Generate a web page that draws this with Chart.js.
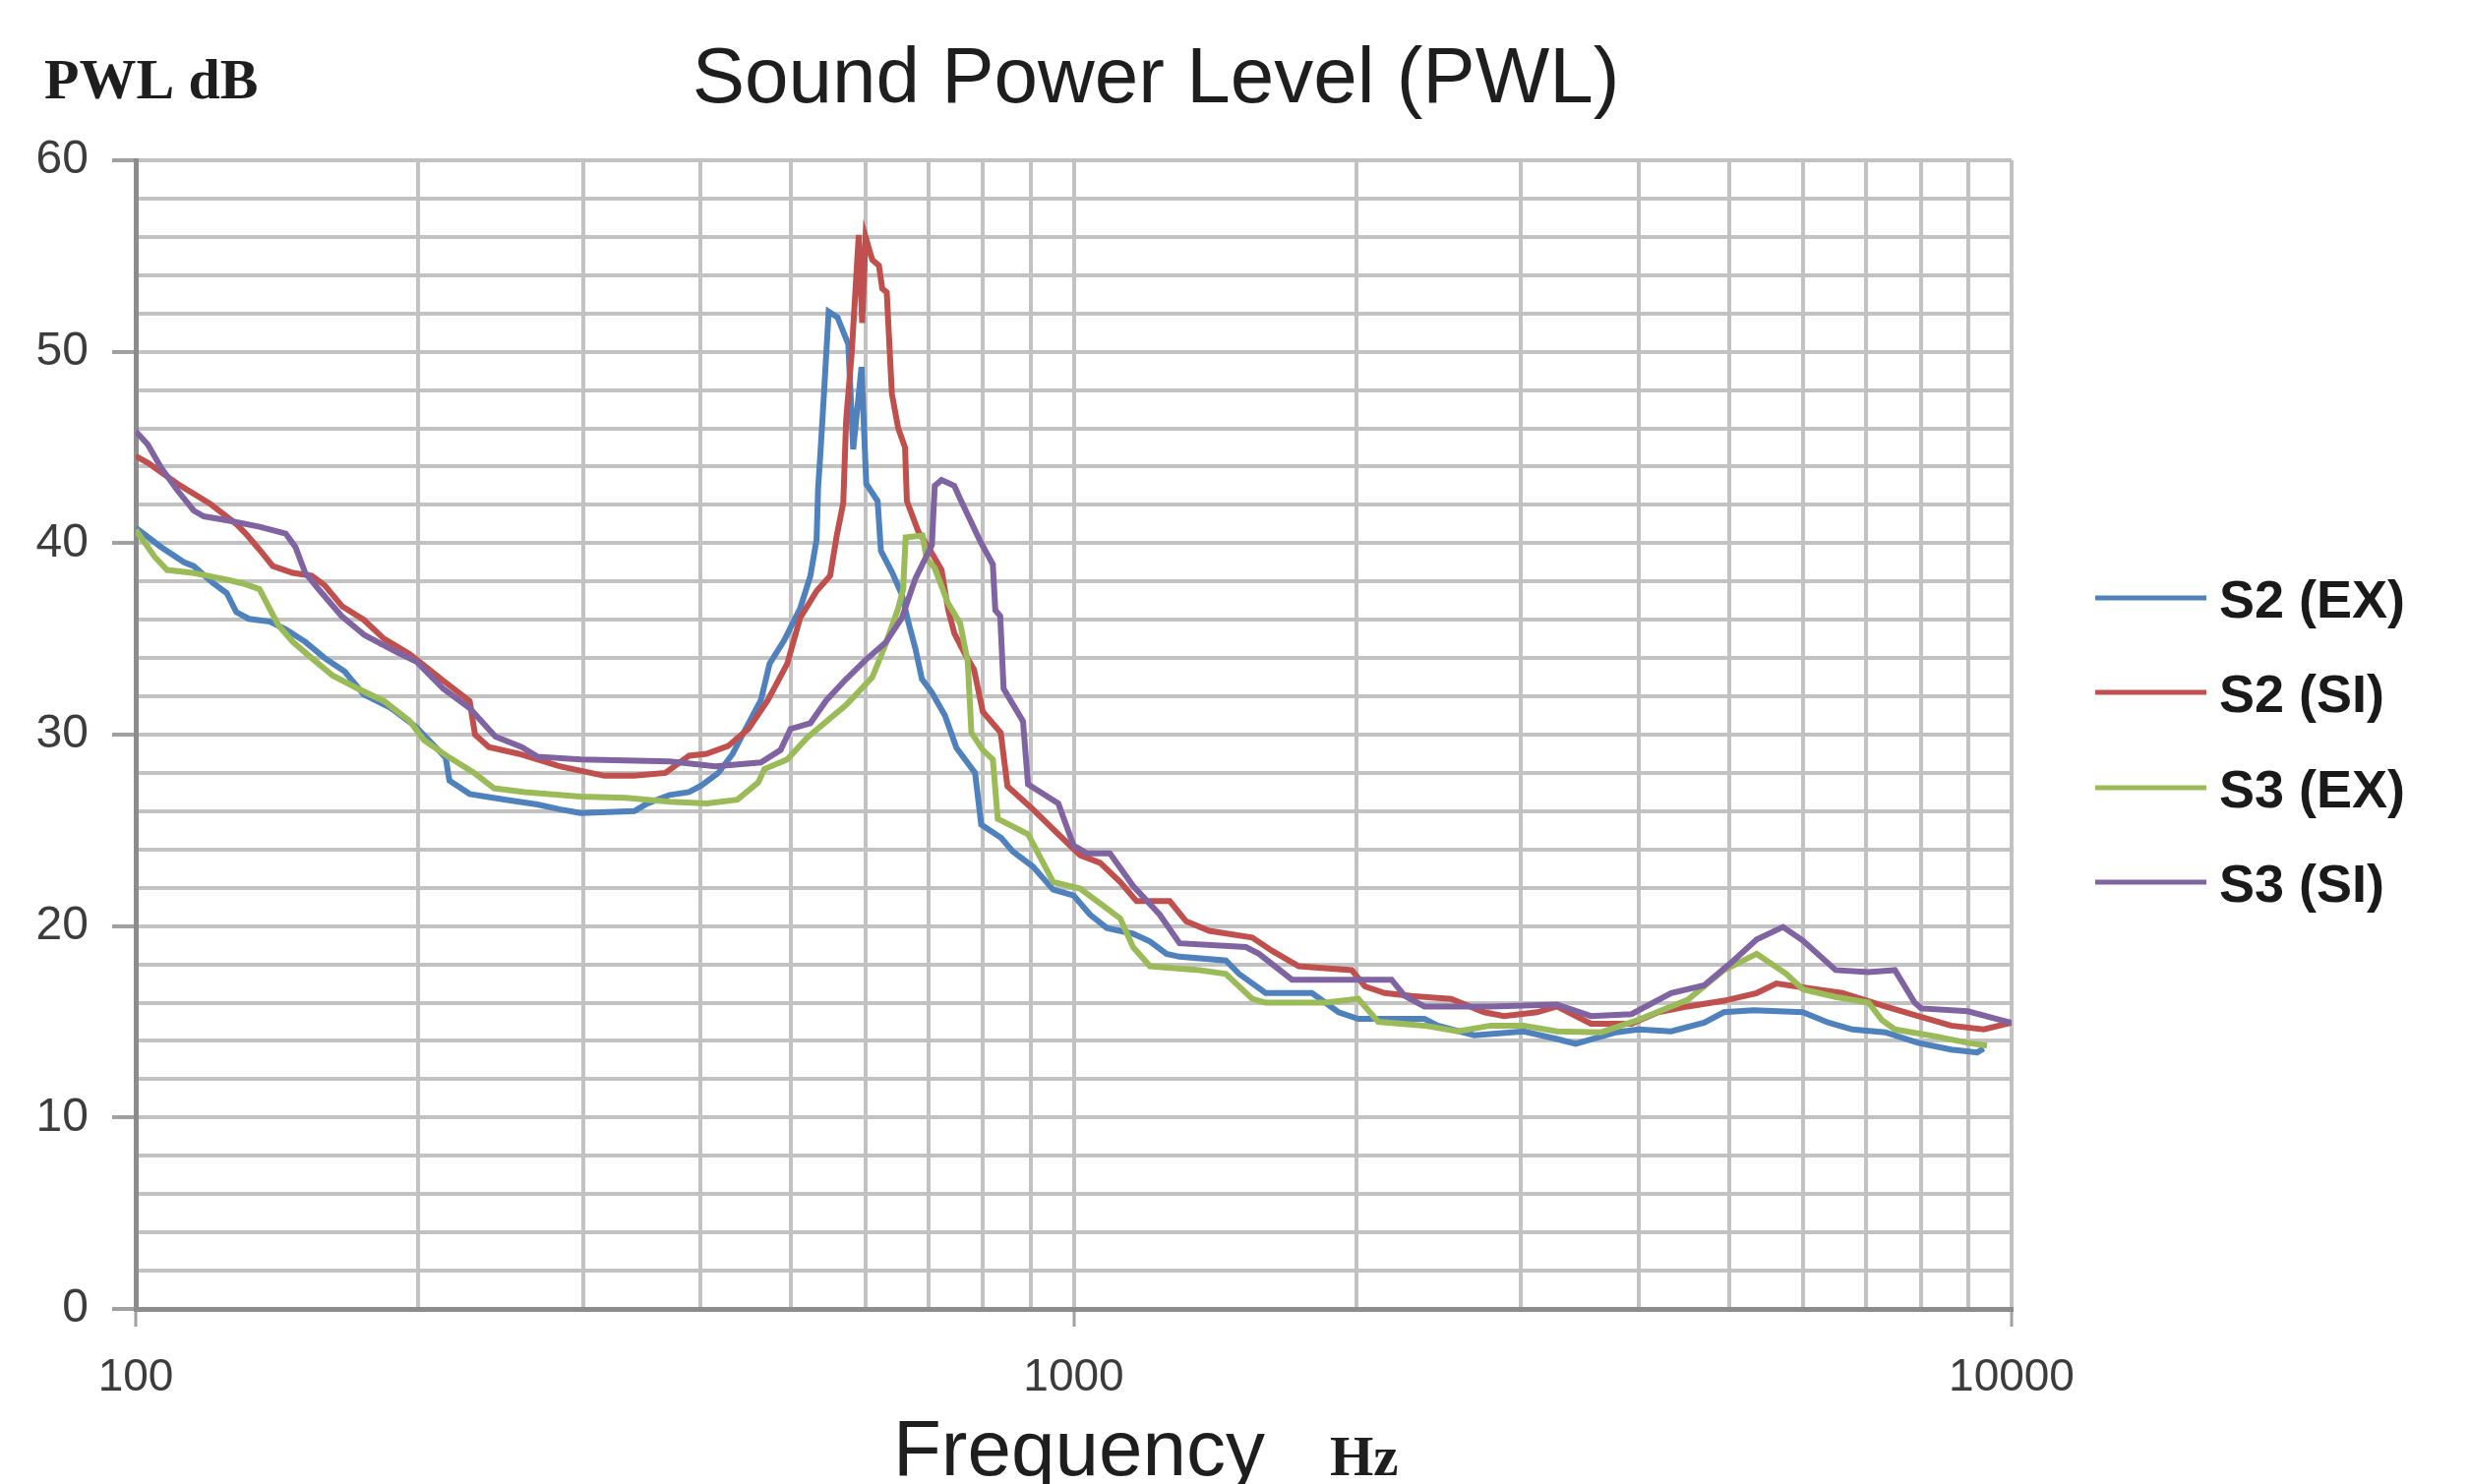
<!DOCTYPE html>
<html>
<head>
<meta charset="utf-8">
<script src="https://cdn.jsdelivr.net/npm/chart.js@4.4.1/dist/chart.umd.min.js"></script>
<style>
html,body{margin:0;padding:0;background:#ffffff;}
#wrap{width:2510px;height:1509px;position:relative;background:#ffffff;}
</style>
</head>
<body>
<div id="wrap"><canvas id="c" width="2510" height="1509"></canvas></div>
<script>
// ---- data ----
const seriesNames = ['S2 (EX)', 'S2 (SI)', 'S3 (EX)', 'S3 (SI)'];
const seriesColors = ['#4F81BD', '#C0504D', '#9BBB59', '#8064A2'];

const s2exFreq = [100,106.4,112.6,115.3,121,125,128,132,139,144.5,151.6,159,167,175,187,199,214,216,227,248,268,283,298,340,351,371,389,401,418,433,442,464,474,491,511,524,532,534,537,542,548,560,575,582,594,601,618,623,640,656,667,678,689,706,729,750,785,797,837,861,905,951,1000,1041,1085,1157,1206,1256,1297,1453,1501,1602,1795,1916,2011,2366,2444,2673,3020,3275,3429,3788,4000,4336,4700,4935,5307,5989,6383,6764,7333,7946,8617,9190,9340];
const s2exLevel = [40.8,39.8,39.0,38.8,37.9,37.4,36.4,36.05,35.9,35.5,34.85,34.0,33.3,32.1,31.4,30.4,28.8,27.6,26.9,26.6,26.35,26.1,25.9,26.0,26.4,26.85,27.0,27.35,28.0,29.0,29.85,31.8,33.7,34.9,36.6,38.3,40.2,42.9,44.7,48.0,52.1,51.8,50.4,44.9,49.2,43.1,42.2,39.6,38.5,37.3,35.8,34.5,32.9,32.2,31.0,29.3,28.0,25.3,24.6,23.9,23.1,21.9,21.6,20.6,19.9,19.6,19.2,18.55,18.4,18.2,17.5,16.5,16.5,15.5,15.15,15.15,14.8,14.3,14.5,14.1,13.85,14.45,14.6,14.5,14.95,15.5,15.6,15.5,14.95,14.6,14.45,13.9,13.55,13.4,13.6];

const s2siFreq = [100,103,110.8,120,128,131,135.5,140,147,154,159,166,175,184,196,213,227,230,238,256,283,316,340,367,389,406,428,450,472,495,511,532,550,559,568,572,580,590,595,600,610,620,625,632,640,650,661,664,683,700,723,735,746,766,783,800,836,850,900,963,1016,1067,1121,1167,1266,1318,1395,1550,1628,1738,1979,2044,2146,2291,2526,2739,2876,3119,3275,3560,3932,4200,4516,4935,5348,5614,6087,6598,7333,7946,8617,9340,10000];
const s2siLevel = [44.55,44.2,43.1,42.06,41.0,40.5,39.66,38.8,38.45,38.3,37.8,36.7,36.0,35.0,34.2,32.8,31.75,30.0,29.35,29.0,28.35,27.85,27.85,28.0,28.9,29.0,29.4,30.3,31.8,33.7,36.1,37.5,38.3,40.4,42.1,46.4,50.0,56.1,51.5,56.0,54.8,54.5,53.3,53.1,47.8,46.0,45.0,42.2,40.6,39.8,38.6,36.5,35.3,34.2,33.4,31.2,30.1,27.3,26.2,24.8,23.7,23.3,22.3,21.3,21.3,20.25,19.75,19.4,18.7,17.9,17.7,16.85,16.5,16.35,16.2,15.5,15.3,15.5,15.8,14.9,14.9,15.5,15.8,16.1,16.5,17.0,16.75,16.5,15.8,15.3,14.8,14.6,14.95];

const s3exFreq = [100,104.7,108,115,125,130,135.5,139,142,147,154,162,172.5,184,196,203,216,230,241,260,298,333,371,406,438,461,468,495,520,572,610,630,650,658,662,690,697,711,734,757,771,778,800,820,830,894,951,1016,1121,1157,1206,1362,1453,1550,1602,1854,2011,2112,2366,2567,2784,3020,3275,3649,4000,4516,4935,5348,5752,5989,6492,7038,7270,7509,8278,8978,9415];
const s3exLevel = [40.7,39.3,38.6,38.45,38.1,37.9,37.6,36.56,35.7,34.85,34.0,33.1,32.4,31.75,30.7,29.7,28.8,27.97,27.2,27.0,26.76,26.7,26.5,26.4,26.6,27.5,28.2,28.7,29.85,31.55,33.0,34.7,36.6,37.6,40.3,40.4,39.2,38.7,36.9,35.8,33.8,30.1,29.2,28.7,25.6,24.8,22.3,21.96,20.4,18.9,17.9,17.7,17.5,16.2,16.0,16.0,16.2,15.0,14.8,14.5,14.8,14.8,14.5,14.45,15.1,16.15,17.7,18.55,17.5,16.7,16.3,16.0,15.1,14.6,14.25,13.9,13.75];

const s3siFreq = [100,103,106.4,110.8,115.3,118.2,125,135.5,144.5,148,151.6,156.6,165.7,175.3,190,199.4,212.7,226.8,241.8,258,268,298,371,415,464,487,499,524,545,572,600,630,656,678,706,711,723,746,757,795,820,825,835,842,883,894,963,1000,1033,1093,1157,1235,1297,1526,1576,1709,1979,2182,2254,2366,2784,3275,3560,3932,4336,4700,5013,5348,5705,5989,6492,7038,7509,7882,8012,8978,9729,10000];
const s3siLevel = [45.84,45.15,43.95,42.75,41.7,41.4,41.2,40.86,40.5,39.8,38.45,37.6,36.2,35.2,34.3,33.8,32.4,31.4,29.9,29.35,28.85,28.7,28.6,28.35,28.55,29.2,30.3,30.6,31.8,32.9,33.9,34.8,36.1,38.15,39.9,43.0,43.3,43.0,42.3,40.1,38.9,36.5,36.2,32.4,30.7,27.4,26.4,24.2,23.8,23.8,22.1,20.6,19.1,18.9,18.55,17.2,17.2,17.2,16.35,15.8,15.8,15.9,15.3,15.4,16.5,16.9,18.05,19.3,19.95,19.25,17.7,17.6,17.7,16.0,15.7,15.55,15.1,14.95];

const xTickValues = [100,200,300,400,500,600,700,800,900,1000,2000,3000,4000,5000,6000,7000,8000,9000,10000];
const xTickLabels = [100, 1000, 10000];
const yTickLabels = [0, 10, 20, 30, 40, 50, 60];

const titleText = 'Sound Power Level (PWL)';
const yUnitText = 'PWL dB';
const xTitleText = 'Frequency';
const xUnitText = 'Hz';

// ---- build ----
function pts(fr, lv) { return fr.map((f, i) => ({ x: f, y: lv[i] })); }
const freqs = [s2exFreq, s2siFreq, s3exFreq, s3siFreq];
const levels = [s2exLevel, s2siLevel, s3exLevel, s3siLevel];

const datasets = seriesNames.map((name, i) => ({
  label: name,
  data: pts(freqs[i], levels[i]),
  borderColor: seriesColors[i],
  backgroundColor: seriesColors[i],
  borderWidth: 6,
  pointRadius: 0,
  pointHoverRadius: 0,
  tension: 0,
  fill: false,
  order: 4 - i
}));

const SANS = '"Liberation Sans", Arial, sans-serif';
const SERIF = '"Liberation Serif", "Times New Roman", serif';

const decor = {
  id: 'decor',
  afterDraw(chart) {
    const ctx = chart.ctx;
    ctx.save();
    ctx.textBaseline = 'alphabetic';
    ctx.fillStyle = '#1e1e1e';
    ctx.textAlign = 'center';
    ctx.font = '80px ' + SANS;
    ctx.fillText(titleText, 1175, 104);
    ctx.textAlign = 'left';
    ctx.font = 'bold 58px ' + SERIF;
    ctx.fillText(yUnitText, 45, 100);
    ctx.font = '80px ' + SANS;
    ctx.fillText(xTitleText, 908, 1500);
    ctx.font = 'bold 57px ' + SERIF;
    ctx.fillText(xUnitText, 1352, 1500);
    // legend
    const ly = [608, 704, 801, 897];
    seriesNames.forEach((name, i) => {
      ctx.strokeStyle = seriesColors[i];
      ctx.lineWidth = 5;
      ctx.beginPath();
      ctx.moveTo(2130, ly[i]);
      ctx.lineTo(2243, ly[i]);
      ctx.stroke();
      ctx.fillStyle = '#1a1a1a';
      ctx.font = 'bold 54px ' + SANS;
      ctx.fillText(name, 2256, ly[i] + 20);
    });
    ctx.restore();
  }
};

new Chart(document.getElementById('c'), {
  type: 'line',
  data: { datasets },
  options: {
    responsive: false,
    animation: false,
    devicePixelRatio: 1,
    layout: { padding: { left: 0, top: 163, right: 465, bottom: 78 } },
    plugins: {
      legend: { display: false },
      title: { display: false },
      tooltip: { enabled: false }
    },
    scales: {
      x: {
        type: 'logarithmic',
        min: 100,
        max: 10000,
        afterBuildTicks: (s) => { s.ticks = xTickValues.map(v => ({ value: v })); },
        afterFit: (s) => { s.height = 100; },
        ticks: {
          autoSkip: false,
          maxRotation: 0,
          minRotation: 0,
          padding: 25,
          color: '#3c3c3c',
          font: { family: SANS, size: 46 },
          callback: (v) => xTickLabels.includes(v) ? String(v) : ''
        },
        grid: {
          color: '#c2c2c2',
          lineWidth: 4,
          tickLength: 18,
          tickWidth: 3,
          tickColor: (c) => (c.tick && xTickLabels.includes(c.tick.value)) ? '#a0a0a0' : 'rgba(0,0,0,0)'
        },
        border: { color: '#8c8c8c', width: 5 }
      },
      y: {
        type: 'linear',
        min: 0,
        max: 60,
        afterFit: (s) => { s.width = 138; },
        ticks: {
          stepSize: 2,
          autoSkip: false,
          padding: 24,
          color: '#3c3c3c',
          font: { family: SANS, size: 48 },
          callback: (v) => yTickLabels.includes(v) ? String(v) : ''
        },
        grid: {
          color: '#c2c2c2',
          lineWidth: 4,
          tickLength: 24,
          tickWidth: 4,
          tickColor: (c) => (c.tick && yTickLabels.includes(c.tick.value)) ? '#a0a0a0' : 'rgba(0,0,0,0)'
        },
        border: { color: '#8c8c8c', width: 5 }
      }
    }
  },
  plugins: [decor]
});
</script>
</body>
</html>
